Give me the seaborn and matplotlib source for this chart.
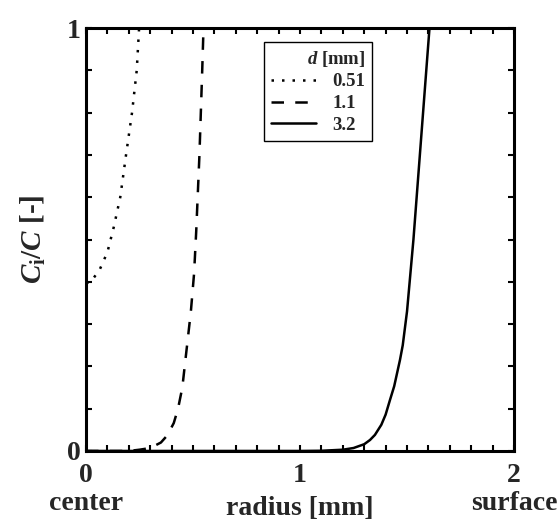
import numpy as np
import pandas as pd
import matplotlib
matplotlib.use("Agg")
import matplotlib.pyplot as plt
import seaborn as sns
from matplotlib.ticker import MultipleLocator

# values
d_labels = ["0.51", "1.1", "3.2"]

x_051 = [0, 0.03, 0.065, 0.1, 0.13, 0.16, 0.187, 0.215, 0.237, 0.248]
y_051 = [0.395, 0.405, 0.43, 0.47, 0.53, 0.60, 0.70, 0.80, 0.90, 1.0]

x_11 = [0, 0.2, 0.25, 0.3, 0.35, 0.38, 0.41, 0.43, 0.45, 0.47, 0.49, 0.505,
        0.515, 0.53, 0.543, 0.549]
y_11 = [0, 0, 0.003, 0.007, 0.02, 0.037, 0.066, 0.10, 0.15, 0.24, 0.33, 0.42,
        0.52, 0.70, 0.90, 1.0]

x_32 = [0, 1.0, 1.1, 1.2, 1.25, 1.3, 1.327, 1.35, 1.38, 1.4, 1.42, 1.44,
        1.467, 1.48, 1.5, 1.53, 1.56, 1.59, 1.605]
y_32 = [0, 0, 0.0005, 0.003, 0.007, 0.016, 0.026, 0.038, 0.062, 0.086, 0.12,
        0.153, 0.215, 0.25, 0.33, 0.50, 0.70, 0.90, 1.0]

df = pd.concat([
    pd.DataFrame({"radius": x_051, "ratio": y_051, "d": d_labels[0]}),
    pd.DataFrame({"radius": x_11, "ratio": y_11, "d": d_labels[1]}),
    pd.DataFrame({"radius": x_32, "ratio": y_32, "d": d_labels[2]}),
], ignore_index=True)

sns.set_theme(style="ticks")
plt.rcParams['font.family'] = ['Liberation Serif', 'DejaVu Serif']
plt.rcParams['font.weight'] = 'bold'
plt.rcParams['mathtext.fontset'] = 'custom'
plt.rcParams['mathtext.rm'] = 'Liberation Serif:bold'
plt.rcParams['mathtext.it'] = 'Liberation Serif:italic:bold'
plt.rcParams['mathtext.bf'] = 'Liberation Serif:bold'

fig = plt.figure(figsize=(5.6, 5.21), dpi=100)
ax = fig.add_axes([0.1536, 0.1344, 0.7643, 0.8118])

sns.lineplot(data=df, x="radius", y="ratio", style="d", color="black",
             dashes={"0.51": (1, 3.2), "1.1": (5, 4.5), "3.2": ""},
             linewidth=1.8, ax=ax, sort=False)

ax.set_xlim(0, 2)
ax.set_ylim(0, 1)
ax.xaxis.set_major_locator(MultipleLocator(1))
ax.xaxis.set_minor_locator(MultipleLocator(0.1))
ax.yaxis.set_major_locator(MultipleLocator(1))
ax.yaxis.set_minor_locator(MultipleLocator(0.1))
ax.tick_params(which="both", direction="in", top=True, right=True,
               length=4.3, width=1.5, color="black")
ax.tick_params(axis="x", which="major", labelsize=20, pad=9)
ax.tick_params(axis="y", which="major", labelsize=20, pad=4)
for lab in ax.get_xticklabels() + ax.get_yticklabels():
    lab.set_fontweight("bold")
for sp in ax.spines.values():
    sp.set_linewidth(2.2)
    sp.set_color("black")

ax.set_xlabel("radius [mm]", fontsize=20, fontweight="bold", va="top")
ax.xaxis.set_label_coords(0.5, -0.106)
ax.set_ylabel(r"$C_{\mathrm{i}}$/$C$ [-]", fontsize=21, fontweight="bold")
ax.yaxis.set_label_coords(-0.088, 0.5)

ax.annotate("center", xy=(0, 0), xycoords=("data", "axes fraction"),
            xytext=(0, -29), textcoords="offset points", ha="center", va="top",
            fontsize=20, fontweight="bold")
ax.annotate("surface", xy=(2, 0), xycoords=("data", "axes fraction"),
            xytext=(0, -29), textcoords="offset points", ha="center", va="top",
            fontsize=20, fontweight="bold")

handles, labels = ax.get_legend_handles_labels()
leg = ax.legend(handles, labels, title=r"$d$ [mm]", loc="upper left",
                bbox_to_anchor=(0.416, 0.967), frameon=True, fancybox=False,
                edgecolor="black", framealpha=1, fontsize=13.5,
                title_fontsize=13.5, handlelength=2.4, handletextpad=0.9,
                borderpad=0.35, borderaxespad=0, labelspacing=0.25,
                alignment="right")
leg.get_frame().set_linewidth(1)
for t in leg.get_texts():
    t.set_fontweight("bold")

fig.savefig("out.png", dpi=100)
